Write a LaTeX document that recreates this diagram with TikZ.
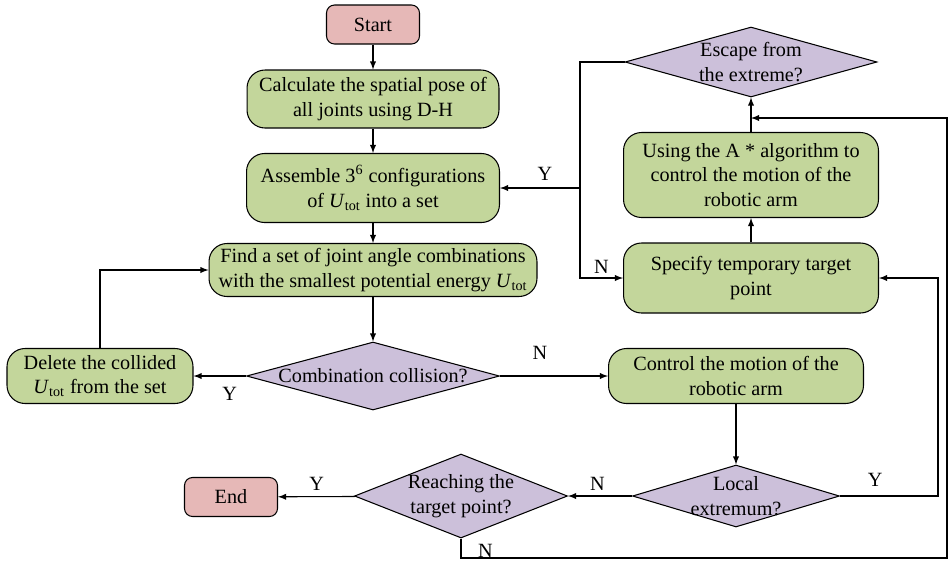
\documentclass[tikz,border=0pt]{standalone}
\usepackage{fontspec}
\setmainfont{Liberation Serif}
\usepackage{tikz}
\usetikzlibrary{shapes, arrows, positioning, calc}

\definecolor{boxgreen}{RGB}{195,214,155}
\definecolor{boxpink}{RGB}{230,184,183}
\definecolor{boxpurple}{RGB}{204,192,218}

\begin{document}
\begin{tikzpicture}[x=0.02cm, y=-0.02cm, >=latex, line width=0.6pt,
	every node/.style={font=\rmfamily\fontsize{11.5}{14}\selectfont},
	proc/.style={draw, fill=boxgreen, rounded corners=0.36cm, align=center, inner sep=0pt},
	term/.style={draw, fill=boxpink, rounded corners=0.16cm, inner sep=0pt, minimum width=1.86cm, minimum height=0.78cm},
	decide/.style={draw, fill=boxpurple, diamond, inner sep=0pt},
	lab/.style={inner sep=1pt}]

	\useasboundingbox (0,0) rectangle (950,562);

	\node[term] (start) at (373,24.5) {Start};
	\node[proc, minimum width=5.04cm, minimum height=1.16cm] (pose) at (373,99) {Calculate the spatial pose of\\all joints using D-H};
	\node[proc, minimum width=5.06cm, minimum height=1.38cm] (assemble) at (373,188) {Assemble 3\textsuperscript{6} configurations\\of \textit{U}\textsubscript{tot} into a set};
	\node[proc, minimum width=6.56cm, minimum height=1.06cm] (find) at (373,270) {Find a set of joint angle combinations\\with the smallest potential energy \textit{U}\textsubscript{tot}};
	\node[decide, minimum width=5.06cm, minimum height=1.36cm, label=center:Combination collision?] (collide) at (373,376) {};
	\node[proc, minimum width=3.72cm, minimum height=1.1cm] (delete) at (100,376) {Delete the collided\\\textit{U}\textsubscript{tot} from the set};
	\node[proc, minimum width=5.1cm, minimum height=1.1cm] (control) at (736,376) {Control the motion of the\\robotic arm};
	\node[decide, minimum width=4.14cm, minimum height=1.24cm, label={[align=center]center:Local\\extremum?}] (local) at (736,496) {};
	\node[decide, minimum width=4.26cm, minimum height=1.68cm, label={[align=center]center:Reaching the\\target point?}] (reach) at (461,496) {};
	\node[term] (end) at (231,497) {End};
	\node[proc, minimum width=5.1cm, minimum height=1.4cm] (specify) at (751,278) {Specify temporary target\\point};
	\node[proc, minimum width=5.1cm, minimum height=1.7cm] (astar) at (751,175) {Using the A * algorithm to\\control the motion of the\\robotic arm};
	\node[decide, minimum width=5.04cm, minimum height=1.4cm, label={[align=center]center:Escape from\\the extreme?}] (escape) at (751,62) {};

	\coordinate (merge) at (751,118);
	\coordinate (split) at (580,188);

	\draw[->] (start) -- (pose);
	\draw[->] (pose) -- (assemble);
	\draw[->] (assemble) -- (find);
	\draw[->] (find) -- (collide);
	\draw[->] (collide) -- node[lab, below=5pt, pos=0.31] {Y} (delete);
	\draw[->] (delete) |- (find);
	\draw[->] (collide) -- node[lab, above=8pt, pos=0.37] {N} (control);
	\draw[->] (control) -- (local);
	\draw[->] (local) -- node[lab, above=2pt, pos=0.54] {N} (reach);
	\draw[->] (reach) -- node[lab, above=2pt] {Y} (end);
	\draw[->] (reach.south) |- node[lab, above=-1pt, pos=0.525] {N} (947,558) |- (merge);
	\draw[->] (local.east) -- node[lab, above=4pt, pos=0.36] {Y} (938,496) |- (specify.east);
	\draw[->] (specify) -- (astar);
	\draw[->] (astar) -- (escape);
	\draw[->] (escape.west) -- (580,62) |- node[lab, above=1pt, pos=0.75] {N} (specify.west);
	\draw[->] (split) -- node[lab, above=3pt, pos=0.44] {Y} (assemble.east);

\end{tikzpicture}
\end{document}
